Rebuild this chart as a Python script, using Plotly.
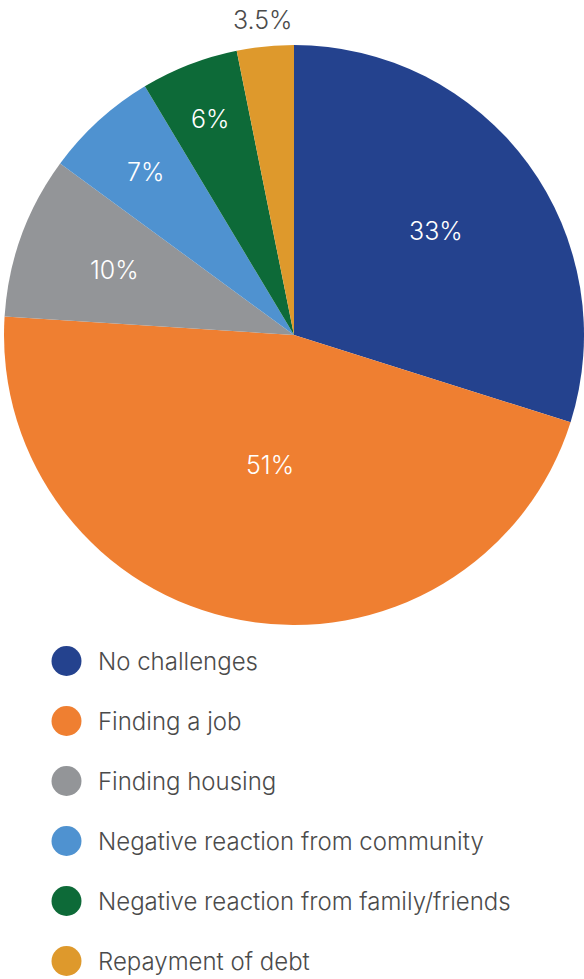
import math
import plotly.graph_objects as go

# Survey responses: challenges faced
categories = [
    "No challenges",
    "Finding a job",
    "Finding housing",
    "Negative reaction from community",
    "Negative reaction from family/friends",
    "Repayment of debt",
]
values = [33, 51, 10, 7, 6, 3.5]
value_labels = ["33%", "51%", "10%", "7%", "6%", "3.5%"]
colors = ["#24428e", "#ef7f31", "#939598", "#4f92d0", "#0d6a38", "#de992c"]

W, H = 584, 979
FONT = "Inter, Liberation Sans, Arial, sans-serif"
TEXT_GREY = "#4b4b4b"

# pie geometry in pixels
cx, cy, R = 294, 335, 290
# radial placement of each value label, as a fraction of the radius
label_r = [0.607, 0.455, 0.66, 0.76, 0.80, 1.09]
label_col = ["white"] * 5 + [TEXT_GREY]

fig = go.Figure()
fig.add_trace(go.Pie(
    values=values,
    labels=categories,
    textinfo="none",
    sort=False,
    direction="clockwise",
    rotation=0,
    marker=dict(colors=colors, line=dict(width=0)),
    showlegend=False,
    hoverinfo="label+percent",
    domain=dict(x=[(cx - R) / W, (cx + R) / W],
                y=[1 - (cy + R) / H, 1 - (cy - R) / H]),
))

# value labels at the middle angle of each slice (clockwise from 12 o'clock)
total = sum(values)
cum = 0.0
for v, txt, fr, col in zip(values, value_labels, label_r, label_col):
    mid = (cum + v / 2) / total * 2 * math.pi
    cum += v
    px = cx + fr * R * math.sin(mid)
    py = cy - fr * R * math.cos(mid)
    fig.add_annotation(x=px / W, y=1 - py / H, xref="paper", yref="paper",
                       text=txt, showarrow=False, xanchor="center", yanchor="middle",
                       font=dict(family=FONT, size=25, color=col, weight=300))

# legend drawn as circles with labels
row0, step = 661, 60
for i, (name, col) in enumerate(zip(categories, colors)):
    yc = row0 + step * i
    fig.add_shape(type="circle", xref="paper", yref="paper",
                  x0=(66.5 - 15) / W, x1=(66.5 + 15) / W,
                  y0=1 - (yc + 15) / H, y1=1 - (yc - 15) / H,
                  fillcolor=col, line=dict(width=0))
    fig.add_annotation(x=96 / W, y=1 - yc / H, xref="paper", yref="paper",
                       text=name, showarrow=False, xanchor="left", yanchor="middle",
                       font=dict(family=FONT, size=24, color=TEXT_GREY, weight=300))

fig.update_layout(
    width=W, height=H,
    margin=dict(l=0, r=0, t=0, b=0),
    paper_bgcolor="white",
    plot_bgcolor="white",
)

fig.write_html("out.html")
